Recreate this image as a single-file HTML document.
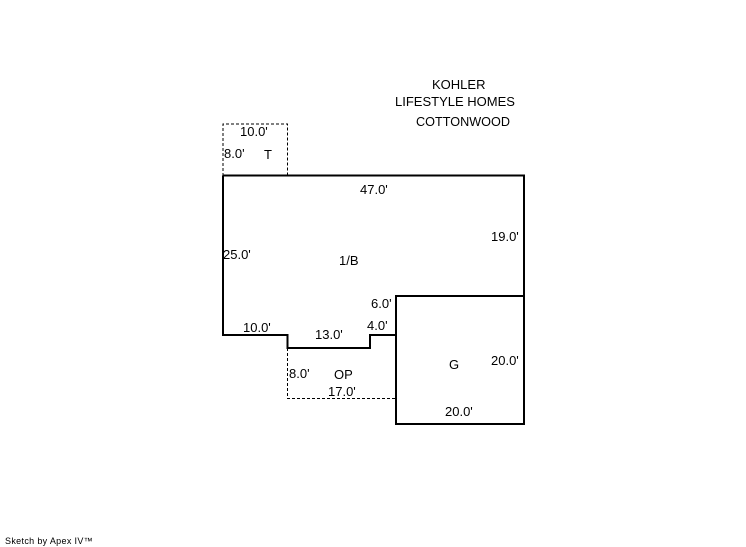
<!DOCTYPE html>
<html>
<head>
<meta charset="utf-8">
<style>
html,body{margin:0;padding:0;background:#fff;}
body{width:746px;height:547px;overflow:hidden;position:relative;}
svg{position:absolute;left:0;top:0;}
text{font-family:"Liberation Sans",sans-serif;font-size:13px;fill:#000;}
</style>
</head>
<body>
<svg width="746" height="547" viewBox="0 0 746 547" xmlns="http://www.w3.org/2000/svg">
<path d="M223 176V124H287.500V176" fill="none" stroke="#000" stroke-width="1" stroke-dasharray="3 2" shape-rendering="crispEdges"/>
<path d="M287.500 348V398.500H396" fill="none" stroke="#000" stroke-width="1" stroke-dasharray="3 2" shape-rendering="crispEdges"/>
<path d="M223 175.500H524V424H396V296H524M396 335H370V348H287.500V335H223V175.500" fill="none" stroke="#000" stroke-width="2" shape-rendering="crispEdges"/>
<text x="432" y="89">KOHLER</text>
<text x="395" y="106">LIFESTYLE HOMES</text>
<text x="416" y="126" textLength="94" lengthAdjust="spacingAndGlyphs">COTTONWOOD</text>
<text x="240" y="136">10.0'</text>
<text x="224" y="158">8.0'</text>
<text x="264" y="159">T</text>
<text x="360" y="194">47.0'</text>
<text x="491" y="241">19.0'</text>
<text x="223" y="259">25.0'</text>
<text x="339" y="265">1/B</text>
<text x="371" y="308">6.0'</text>
<text x="367" y="330">4.0'</text>
<text x="243" y="332">10.0'</text>
<text x="315" y="339">13.0'</text>
<text x="449" y="369">G</text>
<text x="491" y="365">20.0'</text>
<text x="289" y="378">8.0'</text>
<text x="334" y="379">OP</text>
<text x="328" y="396">17.0'</text>
<text x="445" y="416">20.0'</text>
<text x="5" y="544" style="font-size:9px;letter-spacing:0.33px">Sketch by Apex IV™</text>
</svg>
</body>
</html>
